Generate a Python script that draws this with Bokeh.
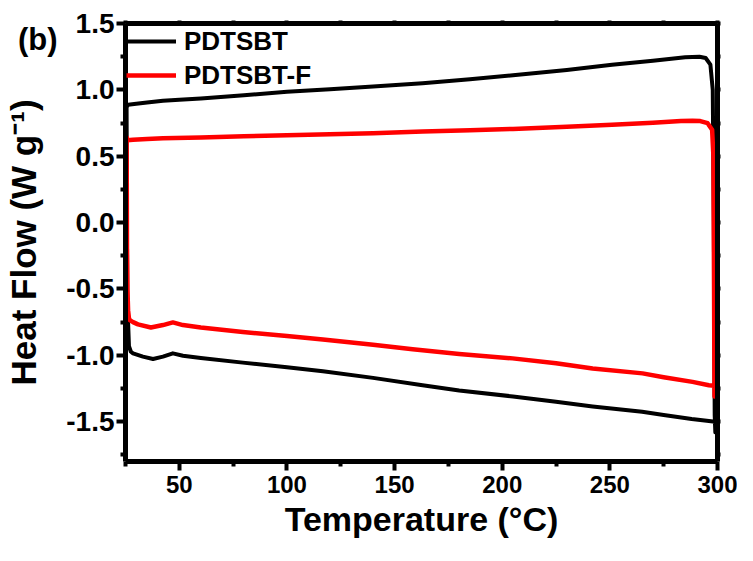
from bokeh.plotting import figure
from bokeh.models import FixedTicker, LinearAxis, Range1d, Legend, LegendItem
from bokeh.embed import file_html
from bokeh.resources import INLINE

# ---------------- data ----------------
temp_pdtsbt = [25.5, 26.2, 30, 35, 42.4, 50, 60, 80, 100, 120, 140, 163, 185, 205, 230,
               251, 270, 285, 291.6, 294.5, 296.7, 297.8, 298.3, 298.7, 299.0, 298.8,
               296, 288, 275, 265, 242, 225, 205, 180, 163, 140, 116.7, 100, 79.5, 60,
               51.7, 47, 42.4, 37.8, 33.1, 28.5, 27.5, 26.6, 26.2, 25.8, 25.5]
hf_pdtsbt = [0.87, 0.888, 0.895, 0.905, 0.918, 0.925, 0.935, 0.96, 0.985, 1.005, 1.025, 1.05,
             1.08, 1.11, 1.15, 1.19, 1.22, 1.245, 1.25, 1.24, 1.19, 1.0, 0.0, -1.45, -1.58,
             -1.50, -1.495, -1.48, -1.45, -1.425, -1.385, -1.35, -1.31, -1.265, -1.225, -1.17,
             -1.12, -1.09, -1.055, -1.02, -1.003, -0.985, -1.01, -1.028, -1.01, -0.985,
             -0.973, -0.93, -0.75, -0.6, 0.87]

temp_pdtsbt_f = [25.5, 25.8, 28.5, 35, 42.4, 60, 80, 100, 120, 140, 163, 185, 205, 230, 251,
                 270, 283, 288.4, 292, 295.4, 297.5, 298.1, 298.4, 298.6, 298.7,
                 296, 288.4, 275, 265.2, 242, 225, 204.8, 180, 158.4, 140, 116.7, 100, 79.5,
                 60, 51.7, 47, 42.4, 36.8, 30.8, 28.5, 27, 26.6, 26.2, 25.9, 25.7, 25.6, 25.5]
hf_pdtsbt_f = [0.65, 0.62, 0.624, 0.63, 0.636, 0.642, 0.65, 0.658, 0.665, 0.673, 0.686, 0.695,
               0.706, 0.722, 0.737, 0.752, 0.765, 0.767, 0.765, 0.749, 0.70, 0.5, -0.5, -1.31,
               -1.23, -1.225, -1.20, -1.165, -1.136, -1.10, -1.06, -1.023, -0.99, -0.955,
               -0.92, -0.88, -0.855, -0.825, -0.79, -0.772, -0.752, -0.772, -0.79, -0.767,
               -0.75, -0.735, -0.72, -0.66, -0.5, -0.2, 0.3, 0.65]

x_ticks = [50, 100, 150, 200, 250, 300]
x_tick_labels = ["50", "100", "150", "200", "250", "300"]
x_minor = [25, 75, 125, 175, 225, 275]
y_ticks = [-1.5, -1.0, -0.5, 0.0, 0.5, 1.0, 1.5]
y_tick_labels = ["-1.5", "-1.0", "-0.5", "0.0", "0.5", "1.0", "1.5"]
y_minor = [-1.75, -1.25, -0.75, -0.25, 0.25, 0.75, 1.25]

series_names = ["PDTSBT", "PDTSBT-F"]
series_colors = ["#000000", "#ff0000"]
panel_tag = "(b)"
panel_tag_y = 1.38

FONT = "Liberation Sans"
NARROW = "Liberation Sans Narrow, Liberation Sans"

p = figure(width=737, height=545, x_range=Range1d(25, 300), y_range=Range1d(-1.8, 1.5),
           output_backend="svg", toolbar_location=None,
           min_border_left=124, min_border_right=20, min_border_top=23, min_border_bottom=84)
p.xgrid.visible = False
p.ygrid.visible = False
p.outline_line_color = None
p.background_fill_color = "white"
p.border_fill_color = "white"

xt = FixedTicker(ticks=x_ticks, minor_ticks=x_minor)
yt = FixedTicker(ticks=y_ticks, minor_ticks=y_minor)

bottom = p.below[0]
left = p.left[0]
bottom.ticker = xt
left.ticker = yt
bottom.major_label_overrides = {t: l for t, l in zip(x_ticks, x_tick_labels)}
left.major_label_overrides = {t: l for t, l in zip(y_ticks, y_tick_labels)}

top = LinearAxis(ticker=xt, major_label_overrides={t: "" for t in x_ticks})
right = LinearAxis(ticker=yt, major_label_overrides={t: "" for t in y_ticks})
p.add_layout(top, "above")
p.add_layout(right, "right")

for ax in (bottom, left, top, right):
    ax.axis_line_width = 5
    ax.axis_line_color = "black"
    ax.major_tick_line_width = 4
    ax.minor_tick_line_width = 4
    ax.major_tick_line_color = "black"
    ax.minor_tick_line_color = "black"
    ax.major_tick_in = 0
    ax.minor_tick_in = 0
    ax.major_label_text_color = "black"
    ax.axis_label_text_color = "black"

for ax in (top, right):
    ax.major_tick_out = 3
    ax.minor_tick_out = 3
    ax.major_label_text_font_size = "1px"
    ax.major_label_standoff = 0

for ax in (bottom, left):
    ax.major_tick_out = 9
    ax.minor_tick_out = 5

bottom.major_label_text_font = NARROW
bottom.major_label_text_font_size = "24px"
bottom.major_label_text_font_style = "bold"
bottom.major_label_standoff = 5
bottom.axis_label = "Temperature (°C)"
bottom.axis_label_text_font = FONT
bottom.axis_label_text_font_size = "34px"
bottom.axis_label_text_font_style = "bold"
bottom.axis_label_standoff = 4

left.major_label_text_font = FONT
left.major_label_text_font_size = "28px"
left.major_label_text_font_style = "bold"
left.major_label_standoff = 2

# outer left axis: carries the panel tag "(b)" as its only tick label and the y title
outer = LinearAxis(ticker=FixedTicker(ticks=[panel_tag_y], minor_ticks=[]),
                   major_label_overrides={panel_tag_y: panel_tag})
outer.axis_line_color = None
outer.major_tick_line_color = None
outer.minor_tick_line_color = None
outer.major_tick_out = 0
outer.minor_tick_out = 0
outer.major_tick_in = 0
outer.minor_tick_in = 0
outer.major_label_standoff = 6
outer.major_label_text_font = FONT
outer.major_label_text_font_size = "31px"
outer.major_label_text_font_style = "bold"
outer.major_label_text_color = "black"
outer.axis_label = "Heat Flow (W g⁻¹)"
outer.axis_label_text_font = FONT
outer.axis_label_text_font_size = "35px"
outer.axis_label_text_font_style = "bold"
outer.axis_label_text_color = "black"
outer.axis_label_standoff = -28
p.add_layout(outer, "left")

r1 = p.line(temp_pdtsbt, hf_pdtsbt, line_color=series_colors[0], line_width=4,
            line_join="round")
r2 = p.line(temp_pdtsbt_f, hf_pdtsbt_f, line_color=series_colors[1], line_width=4.5,
            line_join="round")

legend = Legend(items=[LegendItem(label=series_names[0], renderers=[r1]),
                       LegendItem(label=series_names[1], renderers=[r2])],
                location="top_left", margin=1, padding=5, spacing=0,
                glyph_width=50, glyph_height=34, label_standoff=8,
                label_text_font=FONT, label_text_font_size="26px",
                label_text_font_style="bold", label_text_color="black",
                border_line_color=None, background_fill_alpha=0)
p.add_layout(legend)

open("out.html", "w").write(file_html(p, INLINE))
